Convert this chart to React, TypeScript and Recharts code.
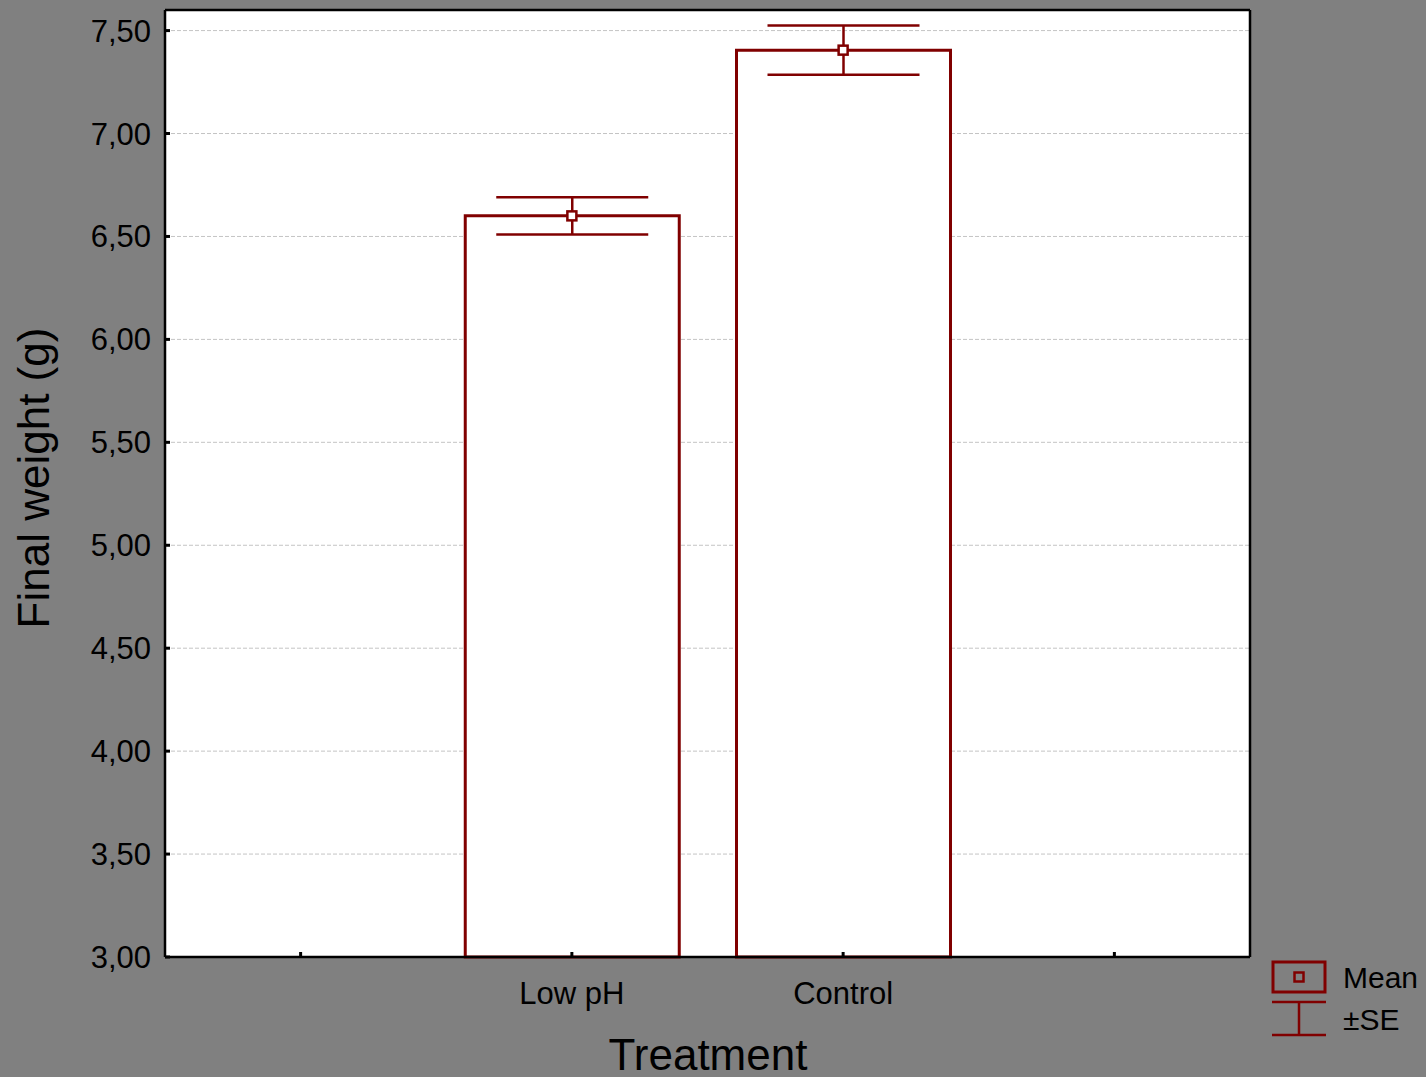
import React from 'react'
import {
  ComposedChart,
  Bar,
  Scatter,
  ErrorBar,
  XAxis,
  YAxis,
  CartesianGrid,
} from 'recharts'

/* ------------------------------------------------------------------ */
/*  Data                                                               */
/* ------------------------------------------------------------------ */

// first and last slots are empty bands (blank names keep them unique)
const categories = [' ', 'Low pH', 'Control', '  ']
const means: (number | null)[] = [null, 6.6, 7.405, null]
const seValues: (number | null)[] = [null, 0.09, 0.12, null]
const yTicks = [3, 3.5, 4, 4.5, 5, 5.5, 6, 6.5, 7, 7.5]

const chartData = categories.map((name, i) => ({
  name,
  mean: means[i],
  se: seValues[i],
}))

/* ------------------------------------------------------------------ */
/*  Style                                                              */
/* ------------------------------------------------------------------ */

const RED = '#800000'
const FONT = '"Liberation Sans", Arial, sans-serif'
const W = 1426
const H = 1077

const formatComma = (v: number): string => v.toFixed(2).replace('.', ',')

function MeanSquare(props: { cx?: number; cy?: number }) {
  const { cx, cy } = props
  if (cx == null || cy == null || Number.isNaN(cx) || Number.isNaN(cy)) return <g />
  return (
    <rect x={cx - 4.5} y={cy - 4.5} width={9} height={9} fill="#fff" stroke={RED} strokeWidth={2.5} />
  )
}

/* ------------------------------------------------------------------ */
/*  Component                                                          */
/* ------------------------------------------------------------------ */

export default function App() {
  return (
    <div
      style={{
        position: 'absolute',
        left: 0,
        top: 0,
        width: W,
        height: H,
        background: '#808080',
        fontFamily: FONT,
      }}
    >
      <ComposedChart
        width={W}
        height={H}
        data={chartData}
        margin={{ top: 9, right: 175, left: 0, bottom: 0 }}
      >
        <CartesianGrid
          vertical={false}
          fill="#ffffff"
          stroke="#c4c4c4"
          strokeDasharray="4 2"
        />

        <XAxis
          dataKey="name"
          type="category"
          height={120}
          interval={0}
          tickSize={-5}
          tickMargin={30}
          tick={{ fill: '#000', fontSize: 31, fontFamily: FONT }}
          tickLine={{ stroke: '#000', strokeWidth: 3 }}
          axisLine={{ stroke: '#000', strokeWidth: 2.5 }}
        />
        {/* top frame with inward ticks */}
        <XAxis
          xAxisId="top"
          dataKey="name"
          type="category"
          orientation="top"
          height={1}
          interval={0}
          tickSize={-5}
          tick={false}
          tickLine={{ stroke: '#000', strokeWidth: 3 }}
          axisLine={{ stroke: '#000', strokeWidth: 2.5 }}
        />

        <YAxis
          type="number"
          domain={[3, 7.6]}
          ticks={yTicks}
          width={165}
          tickSize={-5}
          tickMargin={19}
          tickFormatter={formatComma}
          tick={{ fill: '#000', fontSize: 31, fontFamily: FONT }}
          tickLine={{ stroke: '#000', strokeWidth: 3 }}
          axisLine={{ stroke: '#000', strokeWidth: 2.5 }}
        />
        {/* right frame with inward ticks */}
        <YAxis
          yAxisId="right"
          type="number"
          orientation="right"
          domain={[3, 7.6]}
          ticks={yTicks}
          width={1}
          tickSize={-5}
          tick={false}
          tickLine={{ stroke: '#000', strokeWidth: 3 }}
          axisLine={{ stroke: '#000', strokeWidth: 2.5 }}
        />

        <Bar
          dataKey="mean"
          barSize={214}
          fill="#ffffff"
          stroke={RED}
          strokeWidth={3}
          isAnimationActive={false}
        >
          <ErrorBar
            dataKey="se"
            direction="y"
            width={76}
            stroke={RED}
            strokeWidth={2.5}
            isAnimationActive={false}
          />
        </Bar>

        <Scatter dataKey="mean" shape={<MeanSquare />} isAnimationActive={false} />
        {/* invisible series so the frame axes get a scale */}
        <Scatter
          dataKey="mean"
          xAxisId="top"
          yAxisId="right"
          shape={() => <g />}
          isAnimationActive={false}
        />
      </ComposedChart>

      <svg
        width={W}
        height={H}
        style={{ position: 'absolute', left: 0, top: 0, pointerEvents: 'none' }}
      >
        <text x={708} y={1070} textAnchor="middle" fontSize={44} fontFamily={FONT} fill="#000">
          Treatment
        </text>
        <text
          x={49}
          y={478}
          transform="rotate(-90, 49, 478)"
          textAnchor="middle"
          fontSize={44}
          fontFamily={FONT}
          fill="#000"
        >
          Final weight (g)
        </text>

        {/* legend */}
        <rect x={1273} y={962} width={52} height={30} fill="none" stroke={RED} strokeWidth={3} />
        <rect x={1294.5} y={972.5} width={9} height={9} fill="none" stroke={RED} strokeWidth={2.5} />
        <line x1={1272} y1={1002} x2={1326} y2={1002} stroke={RED} strokeWidth={2.5} />
        <line x1={1299} y1={1002} x2={1299} y2={1035} stroke={RED} strokeWidth={2.5} />
        <line x1={1272} y1={1035} x2={1326} y2={1035} stroke={RED} strokeWidth={2.5} />
        <text x={1343} y={988} fontSize={30} fontFamily={FONT} fill="#000">
          Mean
        </text>
        <text x={1343} y={1030} fontSize={30} fontFamily={FONT} fill="#000">
          ±SE
        </text>
      </svg>
    </div>
  )
}
